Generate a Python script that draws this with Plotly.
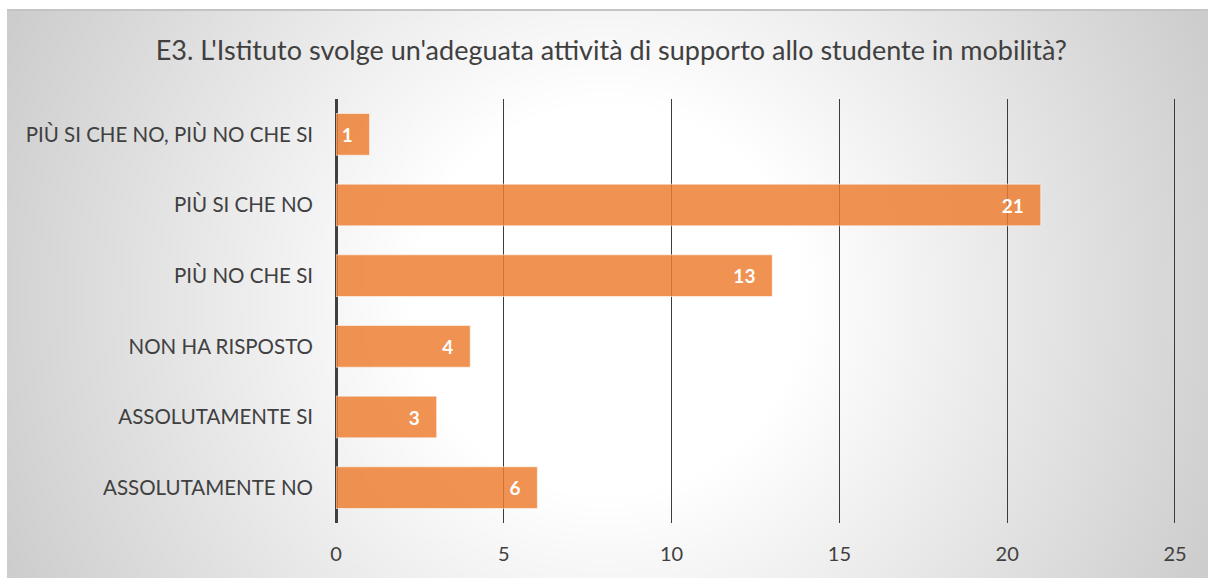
import base64
import struct
import zlib

import numpy as np
import plotly.graph_objects as go

# dati (dal basso verso l'alto)
risposte = ['ASSOLUTAMENTE NO', 'ASSOLUTAMENTE SI', 'NON HA RISPOSTO',
            'PIÙ NO CHE SI', 'PIÙ SI CHE NO', 'PIÙ SI CHE NO, PIÙ NO CHE SI']
conteggi = [6, 3, 4, 13, 21, 1]
tick_x = [0, 5, 10, 15, 20, 25]

titolo = "E3. L'Istituto svolge un'adeguata attività di supporto allo studente in mobilità?"

W, H = 1208, 578
PL, PR, PT, PB = 336, 1176, 99, 523   # area del grafico in pixel
BX, BY = 7, 10                        # angolo dello sfondo grigio


def sfondo_radiale(w, h):
    """Piccolo PNG con gradiente radiale bianco -> grigio, come lo sfondo Excel."""
    yy, xx = np.mgrid[0:h, 0:w]
    sx = 1201 / w
    sy = 568 / h
    r = np.hypot((xx + 0.5) * sx - 600, (yy + 0.5) * sy - 290)
    c = 255 - np.clip((r - 200) / 480, 0, 1) * 52
    c = c.astype(np.uint8)
    raw = b''.join(b'\x00' + bytes(np.repeat(row, 3)) for row in c)

    def chunk(tag, data):
        out = struct.pack('>I', len(data)) + tag + data
        return out + struct.pack('>I', zlib.crc32(tag + data) & 0xffffffff)

    png = b'\x89PNG\r\n\x1a\n'
    png += chunk(b'IHDR', struct.pack('>IIBBBBB', w, h, 8, 2, 0, 0, 0))
    png += chunk(b'IDAT', zlib.compress(raw, 9))
    png += chunk(b'IEND', b'')
    return 'data:image/png;base64,' + base64.b64encode(png).decode()


pw = PR - PL
ph = PB - PT

fig = go.Figure()
fig.add_trace(go.Bar(
    y=risposte, x=conteggi, orientation='h',
    marker=dict(color='rgba(237,125,49,0.84)',
                line=dict(color='rgba(255,255,255,0.55)', width=1)),
    text=conteggi, texttemplate='%{text}\u00a0\u00a0\u00a0',
    textposition='inside', insidetextanchor='end',
    textfont=dict(family='Lato', size=19, color='white', weight='bold'),
    cliponaxis=False,
))

fig.update_layout(
    width=W, height=H,
    margin=dict(l=PL, r=W - PR, t=PT, b=H - PB),
    paper_bgcolor='white', plot_bgcolor='rgba(0,0,0,0)',
    bargap=0.41,
    showlegend=False,
    font=dict(family='Lato', color='#404040'),
    title=dict(text=titolo, xref='container', x=0.506, xanchor='center',
               yref='container', y=1 - 51 / H, yanchor='middle',
               font=dict(family='Lato', size=27, color='#404040')),
    images=[dict(source=sfondo_radiale(300, 142), xref='paper', yref='paper',
                 x=(BX - PL) / pw, y=(PB - BY) / ph,
                 sizex=(W - BX) / pw, sizey=(H - BY) / ph,
                 xanchor='left', yanchor='top', sizing='stretch', layer='below')],
    shapes=[dict(type='line', xref='paper', yref='paper',
                 x0=(BX - PL) / pw, x1=1 + (W - PR) / pw,
                 y0=(PB - BY) / ph, y1=(PB - BY) / ph,
                 line=dict(color='#c4c4c4', width=2))],
)

fig.update_xaxes(range=[0, 25.03], tickvals=tick_x, showgrid=True,
                 gridcolor='#3c3c3c', gridwidth=1,
                 zeroline=True, zerolinecolor='#404040', zerolinewidth=3,
                 showline=False, ticks='', ticklabelstandoff=17,
                 tickfont=dict(family='Lato', size=20, color='#404040'))
fig.update_yaxes(categoryorder='array', categoryarray=risposte,
                 showgrid=False, zeroline=False, showline=False, ticks='',
                 ticklabelstandoff=22,
                 tickfont=dict(family='Lato', size=20.5, color='#404040'))

# niente margine della pagina, così la figura occupa tutta la finestra
fig.write_html("out.html", config={'displayModeBar': False},
               post_script="document.body.style.margin='0';"
                           "document.body.style.overflow='hidden';")
